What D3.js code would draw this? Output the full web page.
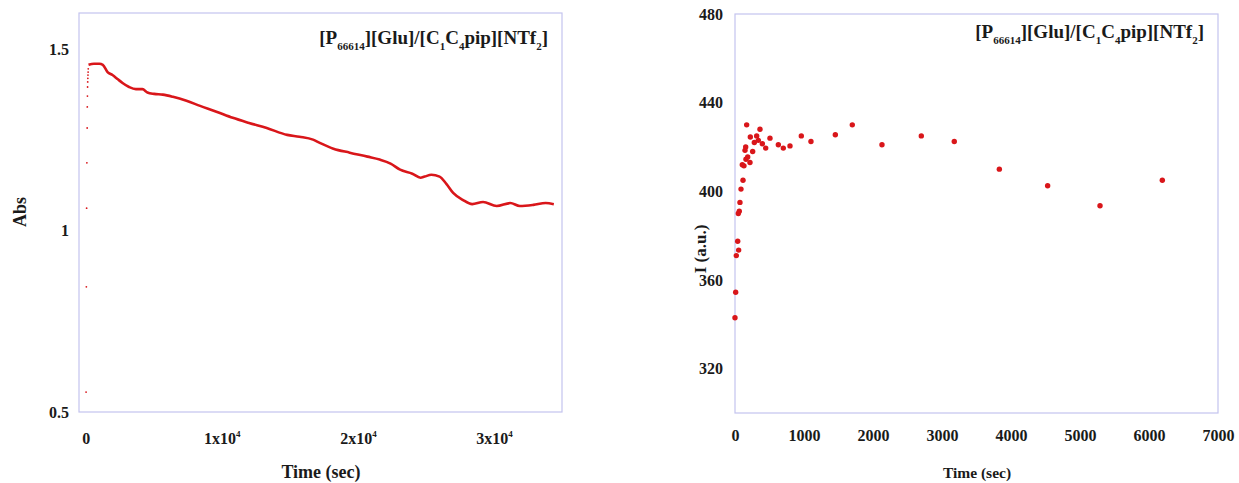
<!DOCTYPE html>
<html>
<head>
<meta charset="utf-8">
<script src="https://cdn.jsdelivr.net/npm/d3@7"></script>
<style>
  body { margin: 0; background: #fff; }
  text { font-family: "Liberation Serif", "Times New Roman", serif; font-weight: bold; fill: #1a1a1a; }
</style>
</head>
<body>
<svg id="chart" width="1239" height="483"></svg>
<script>
// left panel: absorbance vs time
let rampTime = [20, 40, 60, 80, 100, 110, 120, 130, 140, 150, 160, 170, 180]
let rampAbs = [0.555, 0.845, 1.062, 1.187, 1.283, 1.341, 1.371, 1.396, 1.41, 1.42, 1.429, 1.437, 1.446]

let absTime = [200, 600, 1000, 1250, 1600, 1960, 2330, 2700, 3180, 3680, 4160, 4530, 5020, 5660, 6400,
    7400, 8400, 9600, 10800, 12000, 13300, 14800, 15700, 16700, 17200, 18200, 19400, 20700, 21600,
    22400, 23100, 24000, 24600, 24900, 25400, 26000, 26500, 27000, 27700, 28400, 29200, 30200,
    31200, 31900, 32900, 33800, 34400]
let absValues = [1.457, 1.46, 1.46, 1.457, 1.437, 1.429, 1.418, 1.407, 1.396, 1.39, 1.39, 1.381, 1.377, 1.375, 1.369,
    1.358, 1.344, 1.328, 1.311, 1.297, 1.283, 1.264, 1.259, 1.251, 1.242, 1.226, 1.215, 1.204, 1.196,
    1.185, 1.168, 1.157, 1.146, 1.149, 1.154, 1.149, 1.129, 1.104, 1.085, 1.073, 1.079, 1.068,
    1.076, 1.068, 1.071, 1.076, 1.073]

let absXTicks = [0, 10000, 20000, 30000]
let absYTicks = [0.5, 1, 1.5]

// right panel: intensity vs time
let intTime = [0, 10, 19, 39, 53, 48, 62, 72, 87, 116, 106, 130, 159, 145, 155, 169, 184, 217, 256, 222,
    280, 314, 338, 362, 396, 445, 507, 628, 700, 797, 961, 1101, 1454, 1700, 2130, 2700, 3178,
    3831, 4531, 5290, 6193]
let intValues = [343, 354.5, 371, 377.5, 373.5, 390, 391, 395, 401, 405, 412, 411.5, 414.5, 418.5, 420, 430, 415.5, 413, 418, 424.5,
    422, 425, 423, 428, 421.5, 419.5, 424, 421, 419.5, 420.5, 425, 422.5, 425.5, 430, 421, 425, 422.5,
    410, 402.5, 393.5, 405]

let intXTicks = [0, 1000, 2000, 3000, 4000, 5000, 6000, 7000]
let intYTicks = [320, 360, 400, 440, 480]

let red = '#d9161a'
let frameColor = '#c4c4ee'
let tickFont = '16px'

let svg = d3.select('#chart')

// Draws the sample title, right aligned, with subscripts
function drawTitle(xRight, y) {
    let parts = [['[P', 0], ['66614', 1], ['][Glu]/[C', 0], ['1', 1], ['C', 0], ['4', 1], ['pip][NTf', 0], ['2', 1], [']', 0]]
    let t = svg.append('text')
        .attr('x', xRight)
        .attr('y', y)
        .attr('text-anchor', 'end')
        .style('font-size', '19px')
    let down = false
    parts.forEach(function (p) {
        let dy = 0
        if (p[1] && !down) { dy = 6; down = true }
        else if (!p[1] && down) { dy = -6; down = false }
        t.append('tspan')
            .attr('dy', dy)
            .style('font-size', p[1] ? '11px' : '19px')
            .text(p[0])
    })
}

function drawFrame(x, y) {
    svg.append('rect')
        .attr('x', x.range()[0])
        .attr('y', y.range()[1])
        .attr('width', x.range()[1] - x.range()[0])
        .attr('height', y.range()[0] - y.range()[1])
        .attr('fill', 'none')
        .attr('stroke', frameColor)
        .attr('stroke-width', 1.2)
}

// ---------- Left chart ----------
let x1 = d3.scaleLinear().domain([-500, 35000]).range([79, 562])
let y1 = d3.scaleLinear().domain([0.5, 1.6]).range([412, 13])

drawFrame(x1, y1)

let xAxis1 = svg.append('g')
    .attr('transform', 'translate(0,' + 412 + ')')
    .call(d3.axisBottom(x1).tickValues(absXTicks).tickSize(0).tickPadding(21).tickFormat(''))
xAxis1.select('.domain').remove()
xAxis1.selectAll('.tick text')
    .style('font-size', tickFont)
    .attr('fill', null)
    .each(function (d) {
        let t = d3.select(this)
        if (d === 0) { t.text('0'); return }
        t.append('tspan').text((d / 10000) + 'x10')
        t.append('tspan').attr('dy', -7).style('font-size', '9px').text('4')
    })

let yAxis1 = svg.append('g')
    .attr('transform', 'translate(' + 79 + ',0)')
    .call(d3.axisLeft(y1).tickValues(absYTicks).tickSize(0).tickPadding(10).tickFormat(d3.format('')))
yAxis1.select('.domain').remove()
yAxis1.selectAll('.tick text').style('font-size', tickFont).attr('fill', null)

let line1 = d3.line()
    .x(function (d, i) { return x1(absTime[i]) })
    .y(function (d) { return y1(d) })
    .curve(d3.curveMonotoneX)

svg.append('path')
    .datum(absValues)
    .attr('d', line1)
    .attr('fill', 'none')
    .attr('stroke', red)
    .attr('stroke-width', 2.6)
    .attr('stroke-linejoin', 'round')

svg.selectAll('.ramp')
    .data(rampAbs)
    .enter().append('circle')
    .attr('class', 'ramp')
    .attr('cx', function (d, i) { return x1(rampTime[i]) })
    .attr('cy', function (d) { return y1(d) })
    .attr('r', 0.9)
    .attr('fill', red)

drawTitle(548, 44)

svg.append('text')
    .attr('transform', 'translate(' + 26 + ',' + 212 + ') rotate(-90)')
    .attr('text-anchor', 'middle')
    .style('font-size', '18px')
    .text('Abs')

svg.append('text')
    .attr('x', 321)
    .attr('y', 478)
    .attr('text-anchor', 'middle')
    .style('font-size', '18px')
    .text('Time (sec)')

// ---------- Right chart ----------
let x2 = d3.scaleLinear().domain([0, 7000]).range([735, 1218])
let y2 = d3.scaleLinear().domain([300, 480]).range([413, 14])

drawFrame(x2, y2)

let xAxis2 = svg.append('g')
    .attr('transform', 'translate(0,' + 413 + ')')
    .call(d3.axisBottom(x2).tickValues(intXTicks).tickSize(0).tickPadding(17).tickFormat(d3.format('')))
xAxis2.select('.domain').remove()
xAxis2.selectAll('.tick text').style('font-size', tickFont).attr('fill', null)

let yAxis2 = svg.append('g')
    .attr('transform', 'translate(' + 735 + ',0)')
    .call(d3.axisLeft(y2).tickValues(intYTicks).tickSize(0).tickPadding(12).tickFormat(d3.format('')))
yAxis2.select('.domain').remove()
yAxis2.selectAll('.tick text').style('font-size', tickFont).attr('fill', null)

svg.selectAll('.dot')
    .data(intValues)
    .enter().append('circle')
    .attr('class', 'dot')
    .attr('cx', function (d, i) { return x2(intTime[i]) })
    .attr('cy', function (d) { return y2(d) })
    .attr('r', 2.7)
    .attr('fill', red)

drawTitle(1204, 38)

svg.append('text')
    .attr('transform', 'translate(' + 706 + ',' + 249 + ') rotate(-90)')
    .attr('text-anchor', 'middle')
    .style('font-size', '17px')
    .text('I (a.u.)')

svg.append('text')
    .attr('x', 977)
    .attr('y', 478)
    .attr('text-anchor', 'middle')
    .style('font-size', '15.5px')
    .text('Time (sec)')
</script>
</body>
</html>
